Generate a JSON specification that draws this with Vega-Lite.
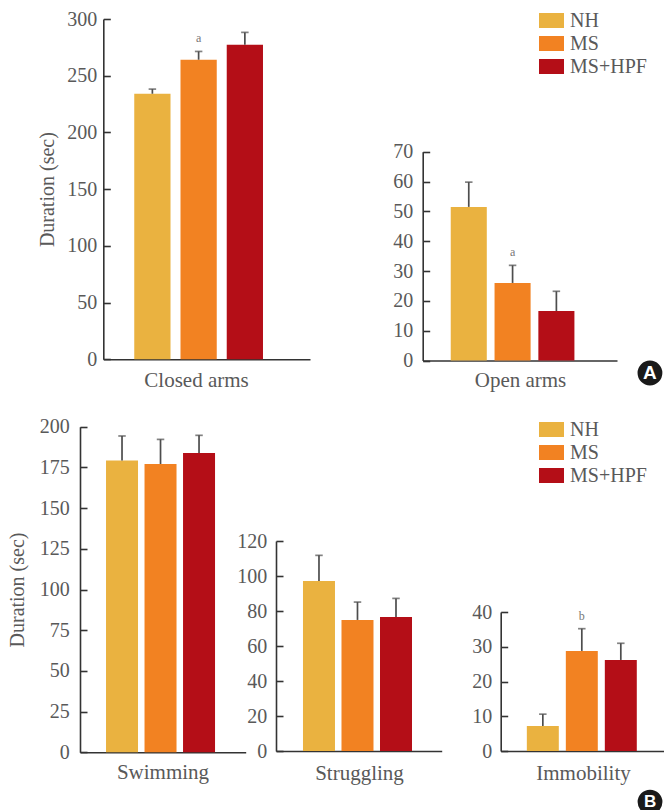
{
  "$schema": "https://vega.github.io/schema/vega-lite/v6.json",
  "width": 664,
  "height": 810,
  "autosize": "none",
  "padding": 0,
  "background": "white",
  "config": {
    "view": {"stroke": null},
    "font": "Liberation Serif",
    "axis": {
      "grid": false,
      "domainColor": "#333333",
      "domainWidth": 1.6,
      "tickColor": "#333333",
      "tickWidth": 1.6,
      "labelFont": "Liberation Serif",
      "labelFontSize": 20,
      "labelColor": "#595959",
      "labelOverlap": false,
      "titleFont": "Liberation Serif",
      "titleFontSize": 20,
      "titleFontWeight": "normal",
      "titleColor": "#595959"
    },
    "legend": {
      "labelFont": "Liberation Serif",
      "labelFontSize": 20,
      "labelColor": "#595959",
      "padding": 0,
      "rowPadding": -0.8,
      "labelOffset": 6,
      "symbolStrokeWidth": 0,
      "symbolOpacity": 1
    }
  },
  "datasets": {
    "closed": [
      {"group": "NH", "mean": 234.1, "upper": 238.2, "sig": ""},
      {"group": "MS", "mean": 264.1, "upper": 271.4, "sig": "a"},
      {"group": "MS+HPF", "mean": 277.3, "upper": 288.2, "sig": ""}
    ],
    "open": [
      {"group": "NH", "mean": 51.5, "upper": 59.8, "sig": ""},
      {"group": "MS", "mean": 26.0, "upper": 31.9, "sig": "a"},
      {"group": "MS+HPF", "mean": 16.6, "upper": 23.2, "sig": ""}
    ],
    "swim": [
      {"group": "NH", "mean": 179.3, "upper": 194.3, "sig": ""},
      {"group": "MS", "mean": 177.1, "upper": 192.2, "sig": ""},
      {"group": "MS+HPF", "mean": 183.8, "upper": 194.7, "sig": ""}
    ],
    "strug": [
      {"group": "NH", "mean": 97.1, "upper": 111.8, "sig": ""},
      {"group": "MS", "mean": 74.9, "upper": 85.1, "sig": ""},
      {"group": "MS+HPF", "mean": 76.6, "upper": 87.2, "sig": ""}
    ],
    "immob": [
      {"group": "NH", "mean": 7.2, "upper": 10.6, "sig": ""},
      {"group": "MS", "mean": 28.8, "upper": 35.2, "sig": "b"},
      {"group": "MS+HPF", "mean": 26.2, "upper": 31.0, "sig": ""}
    ],
    "badgeA": [{"group": "MS+HPF", "y": -4.2, "label": "A"}],
    "badgeB": [{"group": "MS+HPF", "y": -14.7, "label": "B"}]
  },
  "layer": [
    {
      "data": {"name": "closed"},
      "encoding": {
        "x": {"field": "group", "type": "nominal",
          "scale": {"domain": ["NH", "MS", "MS+HPF"], "range": [103.3, 310], "paddingInner": 0.216, "paddingOuter": 0.843, "align": 0.397},
          "axis": {"orient": "bottom", "offset": -450.7, "labels": false, "ticks": false, "title": "Closed arms", "titleX": 196, "titlePadding": 27, "titleBaseline": "alphabetic", "titleFontSize": 21}},
        "y": {"field": "mean", "type": "quantitative",
          "scale": {"domain": [0, 300], "range": [359.3, 19], "nice": false, "zero": true},
          "axis": {"orient": "left", "offset": -103.3, "tickSize": -7, "values": [0, 50, 100, 150, 200, 250, 300], "title": "Duration (sec)", "labelPadding": 13.6, "titlePadding": 9}}
      },
      "layer": [
        {"mark": {"type": "bar"},
         "encoding": {
           "color": {"field": "group", "type": "nominal",
           "scale": {"domain": ["NH", "MS", "MS+HPF"], "range": ["#EAB240", "#F28222", "#B40E17"]},
           "legend": {"orient": "none", "legendX": 539, "legendY": 8, "title": null, "labelFont": "Liberation Serif", "symbolType": "M-1,-0.6H1V0.6H-1Z", "symbolSize": 625}}}},
        {"mark": {"type": "rule", "color": "#4d4d4d", "strokeWidth": 1.7}, "encoding": {"y2": {"field": "upper"}}},
        {"mark": {"type": "tick", "color": "#4d4d4d", "size": 7.5, "thickness": 1.7}, "encoding": {"y": {"field": "upper", "type": "quantitative",
          "axis": {"orient": "left", "offset": -103.3, "tickSize": -7, "values": [0, 50, 100, 150, 200, 250, 300], "title": "Duration (sec)", "labelPadding": 13.6, "titlePadding": 9}}}},
        {"mark": {"type": "text", "color": "#777777", "fontSize": 12, "dy": -13.5, "baseline": "middle"}, "encoding": {"y": {"field": "upper", "type": "quantitative",
          "axis": {"orient": "left", "offset": -103.3, "tickSize": -7, "values": [0, 50, 100, 150, 200, 250, 300], "title": "Duration (sec)", "labelPadding": 13.6, "titlePadding": 9}}, "text": {"field": "sig"}}}
      ]
    },
    {
      "data": {"name": "open"},
      "encoding": {
        "x": {"field": "group", "type": "nominal",
          "scale": {"domain": ["NH", "MS", "MS+HPF"], "range": [422.7, 617], "paddingInner": 0.177, "paddingOuter": 0.806, "align": 0.397},
          "axis": {"orient": "bottom", "offset": -449.5, "labels": false, "ticks": false, "title": "Open arms", "titleX": 520, "titlePadding": 26, "titleBaseline": "alphabetic", "titleFontSize": 21}},
        "y": {"field": "mean", "type": "quantitative",
          "scale": {"domain": [0, 70], "range": [360.5, 151.7], "nice": false, "zero": true},
          "axis": {"orient": "left", "offset": -422.7, "tickSize": -7, "values": [0, 10, 20, 30, 40, 50, 60, 70], "title": null, "labelPadding": 17}}
      },
      "layer": [
        {"mark": {"type": "bar"},
         "encoding": {"color": {"field": "group", "type": "nominal",
           "scale": {"domain": ["NH", "MS", "MS+HPF"], "range": ["#EAB240", "#F28222", "#B40E17"]}, "legend": null}}},
        {"mark": {"type": "rule", "color": "#4d4d4d", "strokeWidth": 1.7}, "encoding": {"y2": {"field": "upper"}}},
        {"mark": {"type": "tick", "color": "#4d4d4d", "size": 7.5, "thickness": 1.7}, "encoding": {"y": {"field": "upper", "type": "quantitative",
          "axis": {"orient": "left", "offset": -422.7, "tickSize": -7, "values": [0, 10, 20, 30, 40, 50, 60, 70], "title": null, "labelPadding": 17}}}},
        {"mark": {"type": "text", "color": "#777777", "fontSize": 12, "dy": -13.5, "baseline": "middle"}, "encoding": {"y": {"field": "upper", "type": "quantitative",
          "axis": {"orient": "left", "offset": -422.7, "tickSize": -7, "values": [0, 10, 20, 30, 40, 50, 60, 70], "title": null, "labelPadding": 17}}, "text": {"field": "sig"}}},
        {"data": {"name": "badgeA"}, "mark": {"type": "point", "shape": "circle", "filled": true, "color": "#1a1a1a", "opacity": 1, "size": 616},
         "encoding": {"y": {"field": "y", "type": "quantitative",
           "axis": {"orient": "left", "offset": -422.7, "tickSize": -7, "values": [0, 10, 20, 30, 40, 50, 60, 70], "title": null, "labelPadding": 17}}, "xOffset": {"value": 111.6}}},
        {"data": {"name": "badgeA"}, "mark": {"type": "text", "color": "white", "font": "Liberation Sans", "fontWeight": "bold", "fontSize": 19, "baseline": "middle", "align": "center"},
         "encoding": {"y": {"field": "y", "type": "quantitative",
           "axis": {"orient": "left", "offset": -422.7, "tickSize": -7, "values": [0, 10, 20, 30, 40, 50, 60, 70], "title": null, "labelPadding": 17}}, "xOffset": {"value": 111.6}, "text": {"field": "label"}}}
      ]
    },
    {
      "data": {"name": "swim"},
      "encoding": {
        "x": {"field": "group", "type": "nominal",
          "scale": {"domain": ["NH", "MS", "MS+HPF"], "range": [80, 245.7], "paddingInner": 0.169, "paddingOuter": 0.736, "align": 0.459},
          "axis": {"orient": "bottom", "offset": -57.7, "labels": false, "ticks": false, "title": "Swimming", "titleX": 162.5, "titlePadding": 26.5, "titleBaseline": "alphabetic", "titleFontSize": 21}},
        "y": {"field": "mean", "type": "quantitative",
          "scale": {"domain": [0, 200], "range": [752.3, 426.7], "nice": false, "zero": true},
          "axis": {"orient": "left", "offset": -80, "tickSize": -7, "values": [0, 25, 50, 75, 100, 125, 150, 175, 200], "title": "Duration (sec)", "labelPadding": 17.7, "titlePadding": 12}}
      },
      "layer": [
        {"mark": {"type": "bar"},
         "encoding": {"color": {"field": "group", "type": "nominal",
           "scale": {"domain": ["NH", "MS", "MS+HPF"], "range": ["#EAB240", "#F28222", "#B40E17"]},
           "legend": {"orient": "none", "legendX": 539, "legendY": 417, "title": null, "labelFont": "Liberation Serif", "symbolType": "M-1,-0.6H1V0.6H-1Z", "symbolSize": 625}}}},
        {"mark": {"type": "rule", "color": "#4d4d4d", "strokeWidth": 1.7}, "encoding": {"y2": {"field": "upper"}}},
        {"mark": {"type": "tick", "color": "#4d4d4d", "size": 7.5, "thickness": 1.7}, "encoding": {"y": {"field": "upper", "type": "quantitative",
          "axis": {"orient": "left", "offset": -80, "tickSize": -7, "values": [0, 25, 50, 75, 100, 125, 150, 175, 200], "title": "Duration (sec)", "labelPadding": 17.7, "titlePadding": 12}}}}
      ]
    },
    {
      "data": {"name": "strug"},
      "encoding": {
        "x": {"field": "group", "type": "nominal",
          "scale": {"domain": ["NH", "MS", "MS+HPF"], "range": [276, 441.7], "paddingInner": 0.169, "paddingOuter": 0.736, "align": 0.476},
          "axis": {"orient": "bottom", "offset": -59, "labels": false, "ticks": false, "title": "Struggling", "titleX": 359, "titlePadding": 28, "titleBaseline": "alphabetic", "titleFontSize": 21}},
        "y": {"field": "mean", "type": "quantitative",
          "scale": {"domain": [0, 120], "range": [751, 541], "nice": false, "zero": true},
          "axis": {"orient": "left", "offset": -276, "tickSize": -7, "values": [0, 20, 40, 60, 80, 100, 120], "title": null, "labelPadding": 16.3}}
      },
      "layer": [
        {"mark": {"type": "bar"},
         "encoding": {"color": {"field": "group", "type": "nominal",
           "scale": {"domain": ["NH", "MS", "MS+HPF"], "range": ["#EAB240", "#F28222", "#B40E17"]}, "legend": null}}},
        {"mark": {"type": "rule", "color": "#4d4d4d", "strokeWidth": 1.7}, "encoding": {"y2": {"field": "upper"}}},
        {"mark": {"type": "tick", "color": "#4d4d4d", "size": 7.5, "thickness": 1.7}, "encoding": {"y": {"field": "upper", "type": "quantitative",
          "axis": {"orient": "left", "offset": -276, "tickSize": -7, "values": [0, 20, 40, 60, 80, 100, 120], "title": null, "labelPadding": 16.3}}}}
      ]
    },
    {
      "data": {"name": "immob"},
      "encoding": {
        "x": {"field": "group", "type": "nominal",
          "scale": {"domain": ["NH", "MS", "MS+HPF"], "range": [500.7, 664], "paddingInner": 0.18, "paddingOuter": 0.684, "align": 0.49},
          "axis": {"orient": "bottom", "offset": -59, "labels": false, "ticks": false, "title": "Immobility", "titleX": 583, "titlePadding": 28, "titleBaseline": "alphabetic", "titleFontSize": 21}},
        "y": {"field": "mean", "type": "quantitative",
          "scale": {"domain": [0, 40], "range": [751, 612], "nice": false, "zero": true},
          "axis": {"orient": "left", "offset": -500.7, "tickSize": -7, "values": [0, 10, 20, 30, 40], "title": null, "labelPadding": 16}}
      },
      "layer": [
        {"mark": {"type": "bar"},
         "encoding": {"color": {"field": "group", "type": "nominal",
           "scale": {"domain": ["NH", "MS", "MS+HPF"], "range": ["#EAB240", "#F28222", "#B40E17"]}, "legend": null}}},
        {"mark": {"type": "rule", "color": "#4d4d4d", "strokeWidth": 1.7}, "encoding": {"y2": {"field": "upper"}}},
        {"mark": {"type": "tick", "color": "#4d4d4d", "size": 7.5, "thickness": 1.7}, "encoding": {"y": {"field": "upper", "type": "quantitative",
          "axis": {"orient": "left", "offset": -500.7, "tickSize": -7, "values": [0, 10, 20, 30, 40], "title": null, "labelPadding": 16}}}},
        {"mark": {"type": "text", "color": "#777777", "fontSize": 12, "dy": -13, "baseline": "middle"}, "encoding": {"y": {"field": "upper", "type": "quantitative",
          "axis": {"orient": "left", "offset": -500.7, "tickSize": -7, "values": [0, 10, 20, 30, 40], "title": null, "labelPadding": 16}}, "text": {"field": "sig"}}},
        {"data": {"name": "badgeB"}, "mark": {"type": "point", "shape": "circle", "filled": true, "color": "#1a1a1a", "opacity": 1, "size": 616},
         "encoding": {"y": {"field": "y", "type": "quantitative",
           "axis": {"orient": "left", "offset": -500.7, "tickSize": -7, "values": [0, 10, 20, 30, 40], "title": null, "labelPadding": 16}}, "xOffset": {"value": 45.2}}},
        {"data": {"name": "badgeB"}, "mark": {"type": "text", "color": "white", "font": "Liberation Sans", "fontWeight": "bold", "fontSize": 17, "baseline": "middle", "align": "center"},
         "encoding": {"y": {"field": "y", "type": "quantitative",
           "axis": {"orient": "left", "offset": -500.7, "tickSize": -7, "values": [0, 10, 20, 30, 40], "title": null, "labelPadding": 16}}, "xOffset": {"value": 45.2}, "text": {"field": "label"}}}
      ]
    }
  ],
  "resolve": {
    "scale": {"x": "independent", "y": "independent", "color": "independent"},
    "axis": {"x": "independent", "y": "independent"},
    "legend": {"color": "independent"}
  }
}
